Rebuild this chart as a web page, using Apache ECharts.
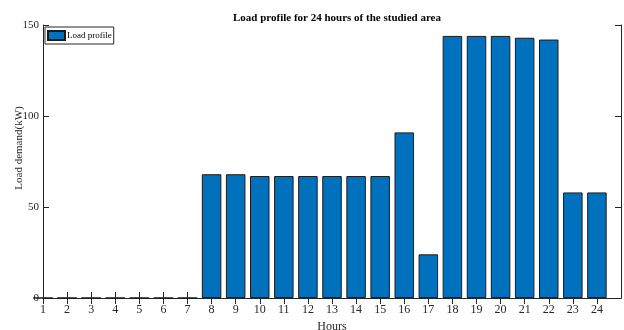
<!DOCTYPE html>
<html>
<head>
<meta charset="utf-8">
<script src="https://cdn.jsdelivr.net/npm/echarts@6/dist/echarts.min.js"></script>
<style>
  html, body { margin: 0; padding: 0; background: #fff; }
  #chart { width: 624px; height: 330px; }
</style>
</head>
<body>
<div id="chart"></div>
<script>
// Hourly load profile of the studied area
const hours = [1, 2, 3, 4, 5, 6, 7, 8, 9, 10, 11, 12, 13, 14, 15, 16, 17, 18, 19, 20, 21, 22, 23, 24];
const loadKW = [0, 0, 0, 0, 0, 0, 0, 68, 68, 67, 67, 67, 67, 67, 67, 91, 24, 144, 144, 144, 143, 142, 58, 58];
const yTicks = [0, 50, 100, 150];

const serif = '"Liberation Serif", "Times New Roman", serif';
const ink = '#262626';

const chart = echarts.init(document.getElementById('chart'), null, { renderer: 'canvas' });

const frameAxis = {
  axisLine: { show: true, lineStyle: { color: ink, width: 1 } },
  axisTick: { show: true, inside: true, length: 6, lineStyle: { color: ink, width: 1 } },
  splitLine: { show: false }
};

chart.setOption({
  animation: false,
  backgroundColor: '#fff',
  title: {
    text: 'Load profile for 24 hours of the studied area',
    left: 332,
    textAlign: 'center',
    top: 8,
    textStyle: { fontFamily: serif, fontWeight: 'bold', fontSize: 11, color: '#000' }
  },
  legend: {
    left: 45,
    top: 27,
    orient: 'vertical',
    icon: 'rect',
    itemWidth: 17,
    itemHeight: 9,
    itemGap: 0,
    padding: [3, 2, 3, 2],
    borderColor: ink,
    borderWidth: 1,
    backgroundColor: '#fff',
    borderRadius: 0,
    textStyle: { fontFamily: serif, fontSize: 9, color: '#000', padding: [0, 0, 0, -3] },
    data: ['Load profile']
  },
  grid: { left: 43, right: 3, top: 25, bottom: 32, outerBoundsMode: 'none', containLabel: false },
  xAxis: [
    Object.assign({
      type: 'value',
      min: 1,
      max: 25,
      interval: 1,
      name: 'Hours',
      nameLocation: 'middle',
      nameGap: 23,
      nameMoveOverlap: false,
      nameTextStyle: { fontFamily: serif, fontSize: 12, color: ink },
      axisLabel: {
        fontFamily: serif, fontSize: 12, color: ink, margin: 6,
        formatter: v => (hours.indexOf(v) >= 0 ? String(v) : '')
      }
    }, frameAxis),
    Object.assign({
      type: 'value',
      position: 'top',
      min: 1,
      max: 25,
      interval: 1,
      axisLabel: { show: false }
    }, frameAxis, {
      axisTick: {
        show: true, inside: true, length: 6, lineStyle: { color: ink, width: 1 },
        customValues: hours
      }
    })
  ],
  yAxis: [
    Object.assign({
      type: 'value',
      min: yTicks[0],
      max: yTicks[yTicks.length - 1],
      interval: 50,
      name: 'Load demand(kW)',
      nameLocation: 'middle',
      nameGap: 18,
      nameMoveOverlap: false,
      nameTextStyle: { fontFamily: serif, fontSize: 11, color: ink, padding: [0, 0, 0, 27] },
      axisLabel: { fontFamily: serif, fontSize: 11, color: ink, margin: 4 }
    }, frameAxis),
    Object.assign({
      type: 'value',
      position: 'right',
      min: yTicks[0],
      max: yTicks[yTicks.length - 1],
      interval: 50,
      axisLabel: { show: false }
    }, frameAxis)
  ],
  series: [{
    name: 'Load profile',
    type: 'bar',
    xAxisIndex: 0,
    yAxisIndex: 0,
    barWidth: 19.5,
    clip: true,
    data: hours.map((h, i) => [h, loadKW[i]]),
    itemStyle: { color: '#0072BD', borderColor: '#1a1a1a', borderWidth: 1 }
  }]
});
</script>
</body>
</html>
